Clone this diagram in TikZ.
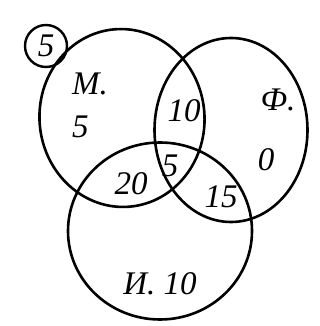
\documentclass[tikz,border=0pt]{standalone}
\usepackage{fontspec}
\setmainfont{Liberation Serif}
\usepackage{tikz}
\usetikzlibrary{shapes.geometric, positioning}

\begin{document}
\begin{tikzpicture}[
    x=1pt, y=-1pt,
    set/.style={ellipse, draw, line width=2.6pt, inner sep=0pt},
    num/.style={font=\fontsize{33}{35}\selectfont\itshape}
]
\useasboundingbox (0,0) rectangle (320,326);

% problem number
\node[circle, draw, line width=2.4pt, minimum size=42pt, inner sep=0pt, num] (task) at (46,46) {5};

% the three sets
\node[set, minimum width=165pt, minimum height=178pt, rotate=5] (math) at (122,118) {};
\node[set, minimum width=153pt, minimum height=184pt] (phys) at (231,130) {};
\node[set, minimum width=184pt, minimum height=177pt] (inf) at (160,231) {};

% counts
\node[num] (mlabel) at (90,84) {М.};
\node[num, below=14pt of mlabel.south west, anchor=north west] (monly) {5};
\node[num] (mp) at (184,111) {10};
\node[num] (flabel) at (278,100) {Ф.};
\node[num] (fonly) at (266,160) {0};
\node[num] (mi) at (131,184) {20};
\node[num] (mpi) at (170,166) {5};
\node[num] (pi) at (221,197) {15};
\node[num] (ionly) at (160,284) {И. 10};
\end{tikzpicture}
\end{document}
